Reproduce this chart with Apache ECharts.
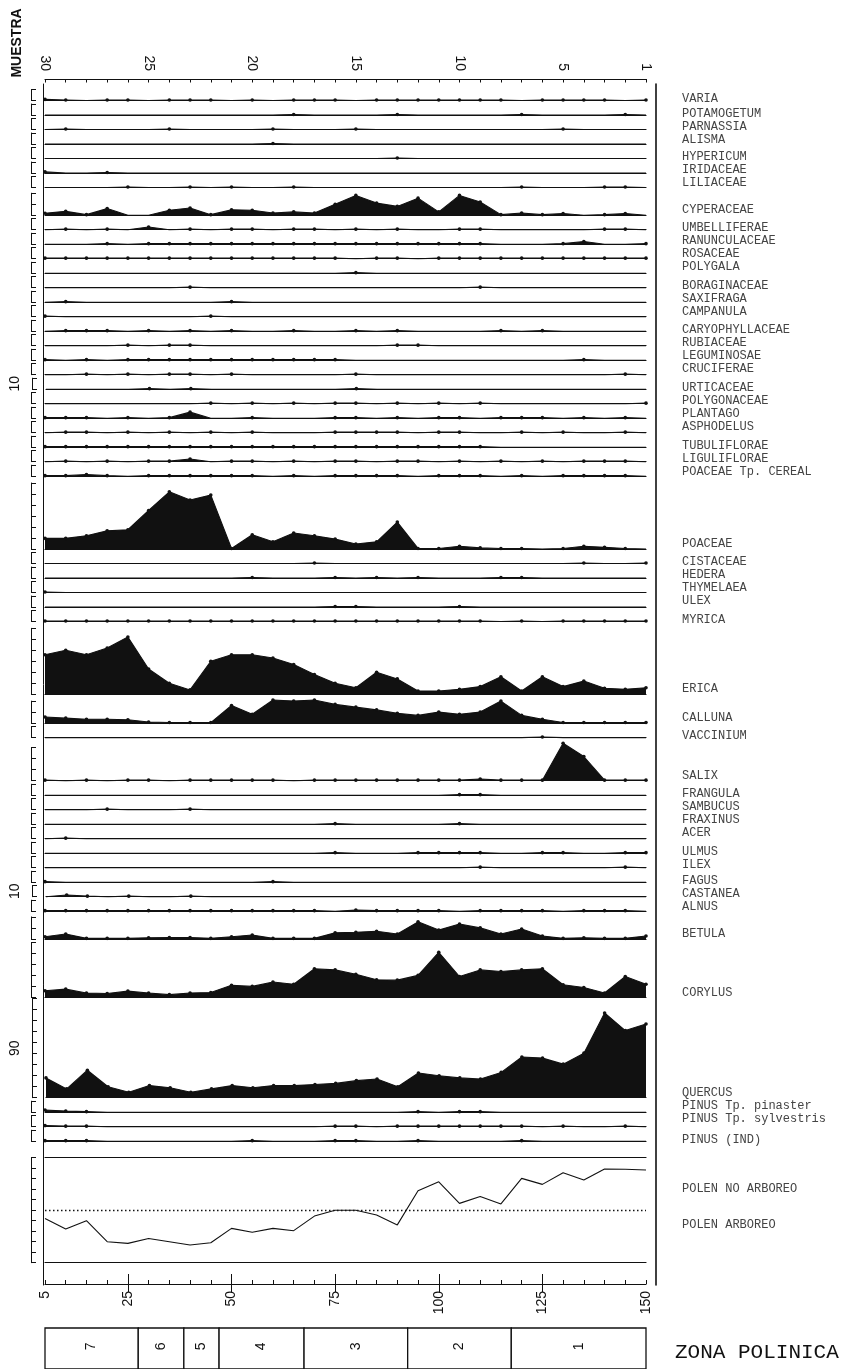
<!DOCTYPE html>
<html>
<head>
<meta charset="utf-8">
<title>Diagrama polínico</title>
<script src="https://cdn.jsdelivr.net/npm/echarts@6/dist/echarts.min.js"></script>
<style>
html, body { margin: 0; padding: 0; background: #fff; }
#chart { width: 850px; height: 1369px; }
</style>
</head>
<body>
<div id="chart"></div>
<script>
// profundidad (cm) de cada muestra: la 30 arriba (5 cm) ... la 1 (150 cm)
const depths = [5,10,15,20,25,30,35,40,45,50,55,60,65,70,75,80,85,90,95,100,105,110,115,120,125,130,135,140,145,150]
const sampleTicks = [30,25,20,15,10,5,1]
const depthTicks = [5,25,50,75,100,125,150]
const longTicks = [25,50,75,100,125]

// porcentajes por muestra (0 = ausente, 0.5 = presencia)
const VARIA = [1,.5,0,.5,.5, 0,.5,.5,.5,0, .5,0,.5,.5,.5, 0,.5,.5,.5,.5, .5,.5,.5,0,.5, .5,.5,.5,0,.5]
const POTAMOGETUM = [0,0,0,0,0, 0,0,0,0,0, 0,0,.5,0,0, 0,0,.5,0,0, 0,0,0,.5,0, 0,0,0,.5,0]
const PARNASSIA = [0,.5,0,0,0, 0,.5,0,0,0, 0,.5,0,0,0, .5,0,0,0,0, 0,0,0,0,0, .5,0,0,0,0]
const ALISMA = [0,0,0,0,0, 0,0,0,0,0, 0,.5,0,0,0, 0,0,0,0,0, 0,0,0,0,0, 0,0,0,0,0]
const HYPERICUM = [0,0,0,0,0, 0,0,0,0,0, 0,0,0,0,0, 0,0,.5,0,0, 0,0,0,0,0, 0,0,0,0,0]
const IRIDACEAE = [1,0,0,.5,0, 0,0,0,0,0, 0,0,0,0,0, 0,0,0,0,0, 0,0,0,0,0, 0,0,0,0,0]
const LILIACEAE = [0,0,0,0,.5, 0,0,.5,0,.5, 0,0,.5,0,0, 0,0,0,0,0, 0,0,0,.5,0, 0,0,.5,.5,0]
const CYPERACEAE = [1.8,3.5,.5,6,0, 0,4.5,6.5,.5,5, 4.5,2,3,2,10, 18,11,8,15.5,3, 18,12,.5,2,.5, 1.5,0,.5,1.5,0]
const UMBELLIFERAE = [0,.5,0,.5,0, 2.5,0,.5,0,.5, .5,0,.5,.5,0, .5,0,.5,0,0, .5,.5,0,0,0, 0,0,.5,.5,0]
const RANUNCULACEAE = [0,0,0,.5,0, .5,.5,.5,.5,.5, .5,.5,.5,.5,.5, .5,.5,.5,.5,.5, .5,.5,0,0,0, .5,2.5,0,0,.5]
const ROSACEAE = [.5,.5,.5,.5,.5, .5,.5,.5,.5,.5, .5,.5,.5,.5,.5, 0,.5,.5,0,.5, .5,.5,.5,.5,.5, .5,.5,.5,.5,.5]
const POLYGALA = [0,0,0,0,0, 0,0,0,0,0, 0,0,0,0,0, .5,0,0,0,0, 0,0,0,0,0, 0,0,0,0,0]
const BORAGINACEAE = [0,0,0,0,0, 0,0,.5,0,0, 0,0,0,0,0, 0,0,0,0,0, 0,.5,0,0,0, 0,0,0,0,0]
const SAXIFRAGA = [0,.5,0,0,0, 0,0,0,0,.5, 0,0,0,0,0, 0,0,0,0,0, 0,0,0,0,0, 0,0,0,0,0]
const CAMPANULA = [.5,0,0,0,0, 0,0,0,.5,0, 0,0,0,0,0, 0,0,0,0,0, 0,0,0,0,0, 0,0,0,0,0]
const CARYOPHYLLACEAE = [0,.5,.5,.5,0, .5,0,.5,0,.5, 0,0,.5,0,0, .5,0,.5,0,0, 0,0,.5,0,.5, 0,0,0,0,0]
const RUBIACEAE = [0,0,0,0,.5, 0,.5,.5,0,0, 0,0,0,0,0, 0,0,.5,.5,0, 0,0,0,0,0, 0,0,0,0,0]
const LEGUMINOSAE = [.5,0,.5,0,.5, .5,.5,.5,.5,.5, .5,.5,.5,.5,.5, 0,0,0,0,0, 0,0,0,0,0, 0,.5,0,0,0]
const CRUCIFERAE = [0,0,.5,0,.5, 0,.5,.5,0,.5, 0,0,0,0,0, .5,0,0,0,0, 0,0,0,0,0, 0,0,0,.5,0]
const URTICACEAE = [0,0,0,0,0, .5,0,.5,0,0, 0,0,0,0,0, .5,0,0,0,0, 0,0,0,0,0, 0,0,0,0,0]
const POLYGONACEAE = [0,0,0,0,0, 0,0,0,.5,0, .5,0,.5,0,.5, .5,0,.5,0,.5, 0,.5,0,0,0, 0,0,0,0,.5]
const PLANTAGO = [.5,.5,.5,0,.5, 0,.5,5.5,0,0, .5,0,0,0,.5, .5,0,.5,0,.5, .5,0,.5,.5,.5, 0,.5,0,.5,0]
const ASPHODELUS = [0,.5,.5,0,.5, 0,.5,0,.5,0, .5,0,0,0,.5, .5,.5,.5,0,.5, .5,0,0,.5,0, .5,0,0,.5,0]
const TUBULIFLORAE = [.5,.5,.5,.5,.5, .5,.5,.5,.5,.5, .5,.5,.5,.5,.5, .5,.5,.5,.5,.5, .5,.5,0,0,0, 0,0,0,0,0]
const LIGULIFLORAE = [0,.5,0,.5,0, .5,.5,2.5,0,.5, .5,0,.5,0,.5, .5,0,.5,.5,0, .5,0,.5,0,.5, 0,.5,.5,.5,0]
const POACEAE_CEREAL = [.5,.5,1.5,.5,0, .5,.5,.5,.5,.5, .5,0,.5,0,.5, .5,.5,.5,0,.5, .5,.5,0,.5,0, .5,.5,.5,.5,0]
const POACEAE = [9.7,9.7,12,16.5,17.5, 35,52,44.5,49,.5, 13,6.5,14.5,12,9, 4.5,6.5,24.5,.5,.5, 2.5,1,.5,.5,0, .5,2.5,1.5,.5,0]
const CISTACEAE = [0,0,0,0,0, 0,0,0,0,0, 0,0,0,.5,0, 0,0,0,0,0, 0,0,0,0,0, 0,.5,0,0,.5]
const HEDERA = [0,0,0,0,0, 0,0,0,0,0, .5,0,0,0,.5, 0,.5,0,.5,0, 0,0,.5,.5,0, 0,0,0,0,0]
const THYMELAEA = [.5,0,0,0,0, 0,0,0,0,0, 0,0,0,0,0, 0,0,0,0,0, 0,0,0,0,0, 0,0,0,0,0]
const ULEX = [0,0,0,0,0, 0,0,0,0,0, 0,0,0,0,.5, .5,0,0,0,0, .5,0,0,0,0, 0,0,0,0,0]
const MYRICA = [.5,.5,.5,.5,.5, .5,.5,.5,.5,.5, .5,.5,.5,.5,.5, .5,.5,.5,.5,.5, .5,.5,0,.5,0, .5,.5,.5,.5,.5]
const ERICA = [36,40,36,42,52, 23,10,4,30,36, 36,33,27,18,10, 6,20,14,3,3, 4.5,7,16,3,16, 7,12,5.5,4.5,6]
const CALLUNA = [5.5,4.5,3.5,3.5,3, 1,.5,.5,.5,16, 8,21,20,21,17, 14.5,12,9,7,10, 8,10,20,7,3.5, .5,.5,.5,.5,.5]
const VACCINIUM = [0,0,0,0,0, 0,0,0,0,0, 0,0,0,0,0, 0,0,0,0,0, 0,0,0,0,.5, 0,0,0,0,0]
const SALIX = [.5,0,.5,0,.5, .5,0,.5,.5,.5, .5,.5,0,.5,.5, .5,.5,.5,.5,.5, .5,1.5,.5,.5,.5, 34,22,.5,.5,.5]
const FRANGULA = [0,0,0,0,0, 0,0,0,0,0, 0,0,0,0,0, 0,0,0,0,0, .5,.5,0,0,0, 0,0,0,0,0]
const SAMBUCUS = [0,0,0,.5,0, 0,0,.5,0,0, 0,0,0,0,0, 0,0,0,0,0, 0,0,0,0,0, 0,0,0,0,0]
const FRAXINUS = [0,0,0,0,0, 0,0,0,0,0, 0,0,0,0,.5, 0,0,0,0,0, .5,0,0,0,0, 0,0,0,0,0]
const ACER = [0,.5,0,0,0, 0,0,0,0,0, 0,0,0,0,0, 0,0,0,0,0, 0,0,0,0,0, 0,0,0,0,0]
const ULMUS = [0,0,0,0,0, 0,0,0,0,0, 0,0,0,0,.5, 0,0,0,.5,.5, .5,.5,0,0,.5, .5,0,0,.5,.5]
const ILEX = [0,0,0,0,0, 0,0,0,0,0, 0,0,0,0,0, 0,0,0,0,0, 0,.5,0,0,0, 0,0,0,.5,0]
const FAGUS = [.5,0,0,0,0, 0,0,0,0,0, 0,.5,0,0,0, 0,0,0,0,0, 0,0,0,0,0, 0,0,0,0,0]
const CASTANEA = [0,1.5,.5,0,.5, 0,0,.5,0,0, 0,0,0,0,0, 0,0,0,0,0, 0,0,0,0,0, 0,0,0,0,0]
const ALNUS = [.5,.5,.5,.5,.5, .5,.5,.5,.5,.5, .5,.5,.5,.5,0, 1,.5,.5,.5,.5, 0,.5,.5,.5,.5, 0,.5,.5,.5,0]
const BETULA = [2,4.5,.5,.5,.5, 1,1.3,1.3,.5,2, 3.5,.5,.5,.5,5.5, 6,7,4.5,15.5,8, 13.5,10,4.5,9,2.7, .5,1,.5,.5,2.7]
const CORYLUS = [6,7.5,4,3.6,5.7, 4,2.5,4,4.5,11, 10,14,12,26,25, 21,16,15.7,20,41, 19,25,23.6,25,26, 11.5,9,4,19,12]
const QUERCUS = [18,8,25,10,5, 11,9,5,8,11, 9,11,11,12,13, 15.5,17,10,22.5,20, 18,17,23,37,36, 30.5,40.5,77,61,67]
const PINUS_PINASTER = [2,1,.5,0,0, 0,0,0,0,0, 0,0,0,0,0, 0,0,0,.5,0, .5,.5,0,0,0, 0,0,0,0,0]
const PINUS_SYLVESTRIS = [1,.5,.5,0,0, 0,0,0,0,0, 0,0,0,0,.5, .5,0,.5,.5,.5, .5,.5,.5,.5,0, .5,0,0,.5,0]
const PINUS_IND = [.5,.5,.5,0,0, 0,0,0,0,0, .5,0,0,0,.5, .5,0,0,.5,0, 0,0,0,.5,0, 0,0,0,0,0]
const POLEN_ARBOREO = [42,32,40,20,18.4, 23,20,16.8,19,32.7, 29,32.7,30.5,44.4,50, 50,45.4,36,68.6,77, 56.5,63,56,80.3,74.6, 85.7,78.7,89.2,89,88.3]

const zoneEdges = [5, 27.5, 38.5, 47, 67.5, 92.5, 117.5, 150]
const zoneNames = ['7','6','5','4','3','2','1']

const taxa = [
  ['VARIA', VARIA], ['POTAMOGETUM', POTAMOGETUM], ['PARNASSIA', PARNASSIA], ['ALISMA', ALISMA],
  ['HYPERICUM', HYPERICUM], ['IRIDACEAE', IRIDACEAE], ['LILIACEAE', LILIACEAE], ['CYPERACEAE', CYPERACEAE],
  ['UMBELLIFERAE', UMBELLIFERAE], ['RANUNCULACEAE', RANUNCULACEAE], ['ROSACEAE', ROSACEAE], ['POLYGALA', POLYGALA],
  ['BORAGINACEAE', BORAGINACEAE], ['SAXIFRAGA', SAXIFRAGA], ['CAMPANULA', CAMPANULA],
  ['CARYOPHYLLACEAE', CARYOPHYLLACEAE], ['RUBIACEAE', RUBIACEAE], ['LEGUMINOSAE', LEGUMINOSAE], ['CRUCIFERAE', CRUCIFERAE],
  ['URTICACEAE', URTICACEAE], ['POLYGONACEAE', POLYGONACEAE], ['PLANTAGO', PLANTAGO], ['ASPHODELUS', ASPHODELUS],
  ['TUBULIFLORAE', TUBULIFLORAE], ['LIGULIFLORAE', LIGULIFLORAE], ['POACEAE Tp. CEREAL', POACEAE_CEREAL],
  ['POACEAE', POACEAE], ['CISTACEAE', CISTACEAE], ['HEDERA', HEDERA], ['THYMELAEA', THYMELAEA], ['ULEX', ULEX],
  ['MYRICA', MYRICA], ['ERICA', ERICA], ['CALLUNA', CALLUNA], ['VACCINIUM', VACCINIUM], ['SALIX', SALIX],
  ['FRANGULA', FRANGULA], ['SAMBUCUS', SAMBUCUS], ['FRAXINUS', FRAXINUS], ['ACER', ACER],
  ['ULMUS', ULMUS], ['ILEX', ILEX], ['FAGUS', FAGUS], ['CASTANEA', CASTANEA], ['ALNUS', ALNUS],
  ['BETULA', BETULA], ['CORYLUS', CORYLUS], ['QUERCUS', QUERCUS],
  ['PINUS Tp. pinaster', PINUS_PINASTER], ['PINUS Tp. sylvestris', PINUS_SYLVESTRIS], ['PINUS (IND)', PINUS_IND]
]

// escala (%) de las curvas grandes y espacio vertical de cada fila
const scaleMax = { CYPERACEAE: 20, POACEAE: 60, ERICA: 60, CALLUNA: 20, SALIX: 30, BETULA: 20, CORYLUS: 50, QUERCUS: 90 }
const rowSpace = { CYPERACEAE: 27.7, POACEAE: 72.8, ERICA: 72.8, CALLUNA: 28.8, SALIX: 43.1, BETULA: 27.7, CORYLUS: 58.5, QUERCUS: 100.3 }
const scaleNames = { URTICACEAE: '10', CASTANEA: '10', QUERCUS: '90' }
const labelGroups = [1,3,3,1,4,3,4,4,3,1,4,1,1,1,1,1,4,2,3,1,1,3,1]

const INK = '#111'
const LABEL_INK = '#444'
const PX = 1.1
const LEFT = 45
const WIDTH = 601
const SMALL = 14.5
const MONO = '"Liberation Mono", "DejaVu Sans Mono", monospace'
const SANS = '"Liberation Sans", Arial, sans-serif'

const grids = [], xAxes = [], yAxes = [], series = [], graphics = []
const baselines = []

const bracketAxis = (gridIndex, max, name) => ({
  gridIndex, type: 'value', min: 0, max, interval: 10, offset: 14,
  axisLine: { show: true, onZero: false, lineStyle: { color: INK, width: 1 } },
  axisTick: { show: true, inside: true, length: 5, lineStyle: { color: INK, width: 1 } },
  axisLabel: { show: false }, splitLine: { show: false },
  name: name || '', nameLocation: 'middle', nameGap: 10, nameRotate: 90,
  nameTextStyle: { fontFamily: SANS, fontSize: 14, color: INK }
})

const baseAxis = (gridIndex, position) => ({
  gridIndex, type: 'value', min: 5, max: 150, position,
  axisLine: { show: true, onZero: false, lineStyle: { color: INK, width: 1.2 } },
  axisTick: { show: false }, axisLabel: { show: false }, splitLine: { show: false }
})

let y = 86
taxa.forEach(([name, values]) => {
  const max = scaleMax[name] || 10
  y += rowSpace[name] || SMALL
  const h = max * PX
  const g = grids.length
  grids.push({ left: LEFT, width: WIDTH, top: y - h, height: h })
  xAxes.push(baseAxis(g, 'bottom'))
  yAxes.push(bracketAxis(g, max, scaleNames[name]))
  series.push({
    type: 'line', name, xAxisIndex: xAxes.length - 1, yAxisIndex: yAxes.length - 1,
    data: depths.map((d, k) => [d, values[k]]),
    clip: false, silent: true, animation: false,
    symbol: 'circle', showSymbol: true, showAllSymbol: true,
    symbolSize: v => (v[1] > 0 ? 3.6 : 0),
    lineStyle: { color: INK, width: 1.1 },
    itemStyle: { color: INK },
    areaStyle: { color: INK, opacity: 1 }
  })
  baselines.push(y)
})

// etiquetas de los taxones, en grupos
let r = 0
labelGroups.forEach(size => {
  const first = r
  const off = scaleMax[taxa[first][0]] ? -5 : -1.5
  for (let j = 0; j < size; j++, r++) {
    graphics.push({
      type: 'text', x: 682, y: baselines[first] + off + 13 * j, silent: true,
      style: { text: taxa[r][0], font: '12px ' + MONO, fill: LABEL_INK, align: 'left', verticalAlign: 'middle', textAlign: 'left', textVerticalAlign: 'middle' }
    })
  }
})

// polen arbóreo / no arbóreo
const apTop = y + 16.5
const apH = 105
const apGrid = grids.length
grids.push({ left: LEFT, width: WIDTH, top: apTop, height: apH })
xAxes.push(baseAxis(apGrid, 'bottom'))
const apX = xAxes.length - 1
xAxes.push(baseAxis(apGrid, 'top'))
yAxes.push(bracketAxis(apGrid, 100))
series.push({
  type: 'line', name: 'POLEN ARBOREO', xAxisIndex: apX, yAxisIndex: yAxes.length - 1,
  data: depths.map((d, k) => [d, POLEN_ARBOREO[k]]),
  symbol: 'none', silent: true, animation: false,
  lineStyle: { color: INK, width: 1.1 },
  markLine: {
    silent: true, symbol: 'none', animation: false, label: { show: false },
    lineStyle: { color: INK, type: [1.5, 2.5], width: 1.3 },
    data: [{ yAxis: 50 }]
  }
})
graphics.push({
  type: 'text', x: 682, y: apTop + 0.3 * apH, silent: true,
  style: { text: 'POLEN NO ARBOREO', font: '12px ' + MONO, fill: LABEL_INK, verticalAlign: 'middle', textVerticalAlign: 'middle' }
})
graphics.push({
  type: 'text', x: 682, y: apTop + 0.64 * apH, silent: true,
  style: { text: 'POLEN ARBOREO', font: '12px ' + MONO, fill: LABEL_INK, verticalAlign: 'middle', textVerticalAlign: 'middle' }
})

// zonas polínicas
const zoneGrid = grids.length
grids.push({ left: LEFT, width: WIDTH, top: 1328, height: 50 })
xAxes.push({ gridIndex: zoneGrid, type: 'value', min: 5, max: 150, show: false })
yAxes.push({ gridIndex: zoneGrid, type: 'value', min: 0, max: 1, show: false })
series.push({
  type: 'custom', xAxisIndex: xAxes.length - 1, yAxisIndex: yAxes.length - 1,
  silent: true, animation: false, clip: false,
  data: zoneNames.map((z, i) => [zoneEdges[i], zoneEdges[i + 1], z]),
  renderItem: (params, api) => {
    const a = api.coord([api.value(0), 1])
    const b = api.coord([api.value(1), 0])
    const c = api.coord([(api.value(0) + api.value(1)) / 2, 0.55])
    return {
      type: 'group',
      children: [
        { type: 'rect', shape: { x: a[0], y: a[1], width: b[0] - a[0], height: b[1] - a[1] },
          style: { fill: '#fff', stroke: INK, lineWidth: 1.3 } },
        { type: 'text', x: c[0], y: c[1], rotation: Math.PI / 2,
          style: { text: zoneNames[params.dataIndex], font: '14px ' + SANS, fill: INK, align: 'center', verticalAlign: 'middle' } }
      ]
    }
  }
})
graphics.push({
  type: 'text', x: 675, y: 1352, silent: true,
  style: { text: 'ZONA POLINICA', font: '21px ' + MONO, fill: INK, verticalAlign: 'middle', textVerticalAlign: 'middle' }
})

// ejes de muestra (arriba) y profundidad (abajo)
const axGrid = grids.length
grids.push({ left: LEFT, width: WIDTH, top: 79, height: 1205 })
yAxes.push({ gridIndex: axGrid, type: 'value', min: 0, max: 1, show: false })
xAxes.push({
  gridIndex: axGrid, type: 'value', min: 5, max: 150, position: 'top',
  axisLine: { show: true, onZero: false, lineStyle: { color: INK, width: 1.2 } },
  axisTick: { show: true, inside: true, length: 3.5, customValues: depths, lineStyle: { color: INK } },
  axisLabel: {
    show: true, rotate: 90, margin: 8, fontFamily: SANS, fontSize: 14, color: INK,
    customValues: sampleTicks.map(n => depths[30 - n]),
    formatter: v => String((155 - v) / 5)
  },
  splitLine: { show: false }
})
xAxes.push({
  gridIndex: axGrid, type: 'value', min: 5, max: 150, position: 'top',
  axisLine: { show: false },
  axisTick: { show: true, inside: true, length: 8, customValues: longTicks, lineStyle: { color: INK } },
  axisLabel: { show: false }, splitLine: { show: false }
})
xAxes.push({
  gridIndex: axGrid, type: 'value', min: 5, max: 150, position: 'bottom',
  axisLine: { show: true, onZero: false, lineStyle: { color: INK, width: 1.2 } },
  axisTick: { show: true, inside: true, length: 4, customValues: depths, lineStyle: { color: INK } },
  axisLabel: {
    show: true, rotate: 90, margin: 7, fontFamily: SANS, fontSize: 14, color: INK,
    customValues: depthTicks
  },
  splitLine: { show: false }
})
xAxes.push({
  gridIndex: axGrid, type: 'value', min: 5, max: 150, position: 'bottom',
  axisLine: { show: false },
  axisTick: { show: true, inside: true, length: 10, customValues: longTicks, lineStyle: { color: INK } },
  axisLabel: { show: false }, splitLine: { show: false }
})

// marco lateral
const frameGrid = grids.length
grids.push({ left: 43, width: 613, top: 84, height: 1201 })
xAxes.push({ gridIndex: frameGrid, type: 'value', min: 0, max: 1, show: false })
yAxes.push({
  gridIndex: frameGrid, type: 'value', min: 0, max: 1, position: 'left',
  axisLine: { show: true, onZero: false, lineStyle: { color: INK, width: 1 } },
  axisTick: { show: false }, axisLabel: { show: false }, splitLine: { show: false }
})
yAxes.push({
  gridIndex: frameGrid, type: 'value', min: 0, max: 1, position: 'right',
  axisLine: { show: true, onZero: false, lineStyle: { color: INK, width: 1.6 } },
  axisTick: { show: false }, axisLabel: { show: false }, splitLine: { show: false }
})

graphics.push({
  type: 'text', x: 17, y: 43, rotation: Math.PI / 2, silent: true,
  style: { text: 'MUESTRA', font: 'bold 14px ' + SANS, fill: INK, align: 'center', verticalAlign: 'middle', textAlign: 'center', textVerticalAlign: 'middle' }
})

const chart = echarts.init(document.getElementById('chart'))
chart.setOption({
  backgroundColor: '#fff',
  animation: false,
  grid: grids,
  xAxis: xAxes,
  yAxis: yAxes,
  series,
  graphic: graphics
})
</script>
</body>
</html>
